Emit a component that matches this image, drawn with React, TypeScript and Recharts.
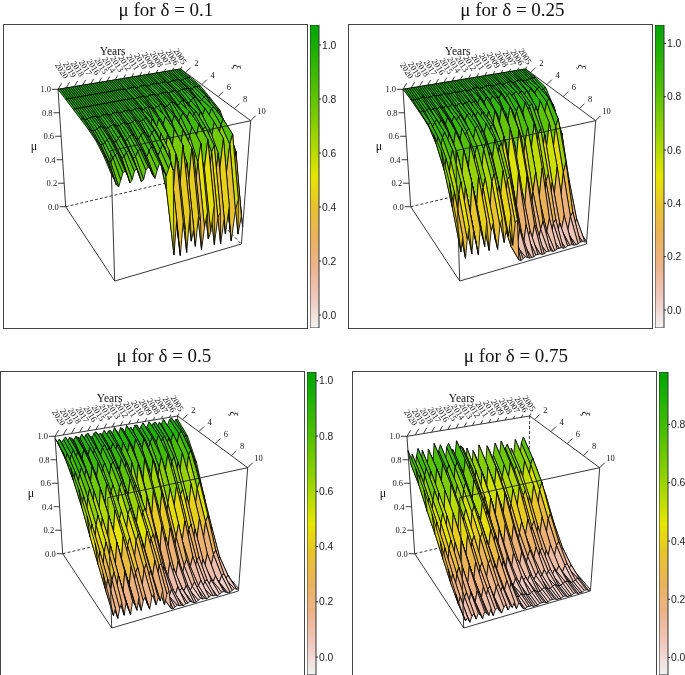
import { Bar, BarChart, Scatter, ScatterChart, XAxis, YAxis } from "recharts"

// mu in percent: rows run from the lowest xi to xi = 10, columns from 2020 back to 2005 (quarterly)
const mu01 = [
  [100,100,100,100,100,100,100,100,100,100,100,100,100,100,100,100,100,100,100,100,100,100,100,100,100,100,100,100,
   100,100,100,100,100,100,100,100,100,100,100,100,100,100,100,100,100,100,100,100,100,100,100,100,100,100,100,100,100,100,100,100,100],
  [99,99,99,99,99,99,99,99,99,99,99,99,99,99,99,99,99,99,99,99,99,99,99,99,99,99,99,99,
   99,98,99,99,99,99,98,98,99,99,99,98,98,99,99,99,99,98,99,99,99,98,98,99,99,99,99,98,98,99,99,99,99],
  [98,98,98,98,98,98,98,98,98,98,98,98,98,98,98,98,98,98,98,98,98,98,98,98,98,98,98,98,
   98,97,98,98,98,98,97,97,98,98,98,97,97,98,98,98,98,97,98,98,98,97,97,98,98,98,98,97,97,98,98,98,98],
  [97,97,96,96,97,97,97,97,96,96,97,97,97,96,96,97,97,97,96,96,97,97,97,96,96,97,97,97,
   96,95,96,97,96,95,94,95,96,97,96,94,94,96,97,96,95,93,95,97,96,94,93,95,97,97,95,93,94,96,97,95,94],
  [96,95,94,94,95,96,96,95,94,94,95,96,95,94,94,95,96,95,94,94,95,96,95,94,94,95,96,95,
   88,94,90,87,93,92,87,94,89,91,88,93,92,87,91,94,88,90,94,87,92,93,87,92,89,94,90,87,93,94,88,91,90],
  [94,92,90,90,91,93,94,92,90,90,92,94,92,89,90,92,93,92,89,88,91,93,92,89,88,91,93,91,
   74,89,80,72,87,84,73,90,77,83,75,88,85,72,82,89,76,79,90,73,85,87,72,84,77,89,78,72,86,90,75,83,75],
  [89,87,84,83,86,88,89,87,84,85,88,89,86,82,83,87,88,87,83,81,85,88,87,83,80,84,88,85,
   50,82,63,46,78,71,48,84,57,69,52,80,74,46,67,82,54,61,84,48,73,78,46,71,55,82,59,46,76,84,52,69,54],
  [82,78,73,71,76,81,82,78,72,74,80,82,77,71,72,79,81,79,74,71,77,82,80,74,71,76,81,74,
   7,34,19,5,31,25,6,38,14,23,9,33,28,5,22,34,12,17,38,6,27,31,5,25,12,34,15,5,29,38,9,23,14],
]

const mu025 = [
  [100,100,100,100,100,100,100,100,100,100,100,100,100,100,100,100,100,100,100,100,100,100,100,100,100,100,100,100,
   100,100,100,100,100,100,100,100,100,100,100,100,100,100,100,100,100,100,100,100,100,100,100,100,100,100,100,100,100,100,100,100,100],
  [99,98,98,98,98,99,99,98,98,98,98,99,98,98,98,98,99,98,98,98,98,99,98,98,98,98,99,98,
   98,98,99,99,99,98,98,98,99,99,99,98,98,99,99,99,98,98,99,99,99,98,98,99,99,99,98,98,98,99,99,99,99],
  [97,95,96,95,96,97,95,96,96,95,97,96,95,97,95,96,97,95,95,96,97,95,96,96,97,95,96,96,
   94,98,96,94,97,97,94,98,95,96,95,98,97,94,96,98,95,96,98,94,97,97,94,97,95,98,95,94,97,98,95,96,97],
  [95,92,94,90,93,95,91,94,92,90,95,93,91,95,91,94,95,92,90,94,95,91,94,92,95,90,94,93,
   82,94,87,81,93,90,82,95,85,89,83,94,91,81,89,94,84,87,95,82,91,93,81,90,85,94,86,81,92,95,83,89,84],
  [92,84,89,81,88,92,83,90,86,81,91,88,84,92,82,89,91,85,81,90,92,83,88,85,92,81,89,90,
   55,82,66,52,79,73,54,84,62,71,57,81,76,52,70,82,58,65,84,54,74,79,52,73,60,82,63,52,78,84,57,71,60],
  [86,70,79,64,77,85,66,82,73,64,83,76,68,86,65,78,84,71,64,80,85,67,77,72,86,64,79,82,
   18,52,32,14,48,40,16,54,26,38,20,50,44,14,36,52,22,30,54,16,42,48,14,40,24,52,28,14,46,54,20,38,20],
  [68,47,60,40,57,67,43,62,51,40,64,55,46,68,41,58,65,48,40,61,67,44,57,50,68,40,60,62,
   6,19,11,4,18,14,5,20,9,14,6,18,16,4,13,19,7,10,20,5,15,18,4,14,8,19,10,4,17,20,6,14,5],
  [40,22,33,16,30,39,18,35,26,16,36,29,21,40,17,32,38,23,16,34,39,20,30,24,40,16,33,35,
   3,2,3,4,3,2,2,2,3,3,3,2,2,3,3,3,2,2,3,3,3,2,2,3,3,3,2,2,2,3,3,3,2],
]

const mu05 = [
  [98,95,97,94,96,98,94,97,96,94,97,96,95,98,94,97,98,95,94,97,98,95,96,95,98,94,97,97,
   94,99,96,93,98,97,93,99,95,97,94,98,98,93,96,99,94,95,99,93,97,98,93,97,95,99,95,93,98,99,94,97,97],
  [94,88,92,86,91,94,87,92,89,86,93,90,88,94,86,91,93,88,86,92,94,87,91,89,94,86,92,91,
   85,93,88,84,92,90,85,94,87,90,85,93,91,84,89,93,86,88,94,85,91,92,84,90,87,93,88,84,92,94,85,90,89],
  [88,77,84,74,82,87,75,85,80,74,86,82,77,88,75,83,87,78,74,84,87,76,82,79,88,74,84,82,
   64,83,72,62,81,76,63,84,69,75,65,82,78,62,74,83,66,71,84,63,77,81,62,76,68,83,70,62,80,84,65,75,72],
  [78,63,72,58,70,77,60,74,66,58,75,69,62,78,59,71,76,64,58,73,77,61,70,65,78,58,72,71,
   39,63,49,36,60,54,37,64,44,53,40,61,57,36,51,63,42,47,64,37,56,60,36,54,43,63,46,36,58,64,40,53,46],
  [64,47,57,42,55,63,44,60,51,42,61,54,46,64,43,56,62,49,42,58,63,45,55,50,64,42,57,60,
   19,41,28,16,38,33,17,42,24,32,20,39,36,16,30,41,21,26,42,17,34,38,16,33,22,41,25,16,37,42,20,32,18],
  [50,33,43,28,41,49,30,46,37,28,47,40,32,50,29,42,48,35,28,44,49,31,41,36,50,28,43,46,
   7,19,12,6,18,15,7,20,10,14,8,19,16,6,14,19,9,12,20,7,16,18,6,15,9,19,11,6,17,20,8,14,7],
  [34,20,29,16,27,33,18,30,23,16,31,26,20,34,17,28,32,21,16,29,33,19,27,22,34,16,29,30,
   3,8,5,2,7,6,2,8,4,6,3,7,6,2,5,8,3,4,8,2,6,7,2,6,4,8,4,2,7,8,3,6,3],
  [18,9,14,6,13,17,7,16,11,6,16,13,8,18,7,14,17,10,6,15,17,8,13,10,18,6,14,16,
   2,1,2,3,2,2,1,2,2,3,2,1,1,2,3,2,2,1,2,3,2,2,1,2,3,3,2,1,1,2,3,2,2],
]

const mu075 = [
  [88,76,84,72,82,88,73,86,78,71,86,81,75,90,72,83,88,77,71,85,88,74,82,77,89,71,84,82,
   60,81,69,58,78,74,59,82,65,72,62,80,76,58,71,81,63,68,82,59,75,78,58,74,64,81,66,58,77,82,61,72,66],
  [80,66,75,62,73,79,64,76,69,62,77,72,66,80,63,74,78,67,62,75,79,65,73,68,80,62,75,73,
   48,69,57,46,66,62,47,70,53,60,50,68,64,46,59,69,51,56,70,47,63,66,46,62,52,69,54,46,65,70,50,60,55],
  [70,52,63,46,60,68,48,65,56,46,66,59,51,70,47,61,68,53,46,64,69,50,60,54,70,46,63,60,
   31,55,41,28,52,46,29,56,36,45,32,53,49,28,43,55,34,39,56,29,48,52,28,46,35,55,38,28,50,56,32,45,30],
  [58,41,51,36,49,57,38,54,45,36,55,48,40,58,37,50,56,43,36,52,57,39,49,44,58,36,51,48,
   16,35,24,14,33,28,15,36,21,27,17,34,30,14,26,35,18,23,36,15,29,33,14,28,20,35,22,14,32,36,17,27,12],
  [44,29,38,24,36,43,26,40,32,24,41,35,28,44,25,37,42,30,24,39,43,27,36,31,44,24,38,35,
   7,19,12,6,18,15,7,20,10,14,8,19,16,6,14,19,9,12,20,7,16,18,6,15,9,19,11,6,17,20,8,14,5],
  [30,18,25,14,24,29,16,27,20,14,28,23,17,30,15,24,28,19,14,26,29,17,24,20,30,14,25,22,
   4,9,6,3,8,7,3,9,5,7,4,8,7,3,6,9,4,5,9,3,7,8,3,7,5,9,5,3,8,9,4,7,3],
  [18,10,15,8,14,17,9,16,12,8,16,14,10,18,8,15,17,11,8,15,17,10,14,11,18,8,15,12,
   3,2,3,4,3,3,2,2,3,4,3,2,2,3,4,3,2,2,3,4,3,2,2,3,4,4,3,2,2,3,4,3,2],
  [9,5,7,3,7,9,4,8,6,3,8,6,4,9,3,7,8,5,3,7,9,4,7,5,9,3,7,6,
   2,1,2,2,2,1,1,1,2,2,2,1,1,2,2,2,1,1,1,2,2,1,1,1,2,2,1,1,1,2,2,1,1],
]

const yearLabels = ["2020","2019","2018","2017","2016","2015","2014","2013","2012","2011","2010","2009","2008","2007","2006","2005"]
const xiTicks = [2, 4, 6, 8, 10]
const muTicks = [0, 0.2, 0.4, 0.6, 0.8, 1]
const XI_MIN = 1.4
const SIZE = 303

// where the corners of the unit cube land in a panel: [year, xi, mu]
const corner = {
  "000": [61.7, 181.7], "001": [54, 64.3],
  "010": [110.7, 256], "011": [106.7, 125.7],
  "100": [175, 155], "101": [176.7, 44],
  "110": [237.4, 219], "111": [246.7, 95.7],
}

function project(t: number, u: number, m: number, dx = 0, dy = 0) {
  const mix = (a: number, b: number, f: number) => a + (b - a) * f
  const at = (i: number) => {
    const c = (k: string) => corner[k][i]
    const low = mix(mix(c("000"), c("100"), t), mix(c("010"), c("110"), t), u)
    const high = mix(mix(c("001"), c("101"), t), mix(c("011"), c("111"), t), u)
    return mix(low, high, m)
  }
  return { x: at(0) + dx, y: at(1) + dy }
}

// R's terrain.colors, reversed so that high values are green
function terrain(f: number) {
  const hsv = (h: number, s: number, v: number) => {
    const ch = (n: number) => {
      const k = (n + h * 6) % 6
      return Math.round(255 * (v - v * s * Math.max(0, Math.min(k, 4 - k, 1))))
    }
    return `rgb(${ch(5)},${ch(3)},${ch(1)})`
  }
  if (f < 0.5) return hsv(4 / 12 - (f / 0.5) * (2 / 12), 1, 0.65 + (f / 0.5) * 0.25)
  const g = (f - 0.5) / 0.5
  return hsv((2 / 12) * (1 - g), 1 - g, 0.9 + g * 0.05)
}

const stops = [0, 0.1, 0.2, 0.3, 0.4, 0.5, 0.6, 0.7, 0.8, 0.9, 1]

const segments = (pairs: number[][]) => pairs.map((p) => project(p[0], p[1], p[2]))

const backEdges = segments([[0,0,1],[0,0,0], [0,0,1],[1,0,1], [1,0,1],[1,1,1], [0,0,0],[0,1,0]])
const hiddenEdges = segments([[0,0,0],[1,0,0], [1,0,1],[1,0,0], [1,0,0],[1,1,0]])
const frontEdges = segments([[0,1,1],[1,1,1], [0,1,1],[0,1,0], [0,1,0],[1,1,0], [1,1,1],[1,1,0]])

const xiU = (xi: number) => (xi - XI_MIN) / (10 - XI_MIN)

const tickMarks = [
  ...muTicks.flatMap((m) => [project(0, 0, m), project(0, 0, m, -6, 0)]),
  ...yearLabels.flatMap((_, i) => {
    const t = i / 15
    return [project(t, 0, 1), project(t, 0, 1, 3.6 - 2.6 * t, -6 + 3.6 * t)]
  }),
  ...xiTicks.flatMap((xi) => [project(1, xiU(xi), 1), project(1, xiU(xi), 1, 5, -5)]),
]

const axisLabels = [
  ...muTicks.map((m) => ({ ...project(0, 0, m, -7, 3), label: m.toFixed(1), anchor: "end", size: 8.5, angle: 0 })),
  ...yearLabels.map((y, i) => {
    const t = i / 15
    return { ...project(t, 0, 1, 6 - 4.3 * t, -10 + 6 * t), label: y, anchor: "end", size: 8.5, angle: 57 }
  }),
  ...xiTicks.map((xi) => ({ ...project(1, xiU(xi), 1, 10.7, -7), label: String(xi), anchor: "middle", size: 8.5, angle: 0 })),
  { x: 108.7, y: 30, label: "Years", anchor: "middle", size: 11.5, angle: 0 },
  { x: 30, y: 125, label: "μ", anchor: "middle", size: 12, angle: 0 },
  { x: 229, y: 41.5, label: "ξ", anchor: "middle", size: 11.5, angle: 95 },
]

function buildFacets(rows: number[][], low: number, high: number) {
  const corners: { x: number; y: number }[] = []
  const fills: string[] = []
  const value = (i: number, k: number) => (rows[i][k] ?? rows[i][rows[i].length - 1]) / 100
  for (let i = 0; i < rows.length - 1; i++) {
    for (let k = 59; k >= 0; k--) {
      const quad = [[k, i], [k + 1, i], [k + 1, i + 1], [k, i + 1]]
      quad.forEach(([c, r]) => corners.push(project(c / 60, r / (rows.length - 1), value(r, c))))
      const mean = quad.reduce((s, [c, r]) => s + value(r, c), 0) / 4
      fills.push(terrain((high - mean) / (high - low)))
    }
  }
  return { corners, fills }
}

const noDot = () => null

const drawSegments = (dash?: string) => (props: any) => {
  const pts = props.points
  const out = []
  for (let i = 0; i + 1 < pts.length; i += 2) {
    out.push(
      <line key={i} x1={pts[i].x} y1={pts[i].y} x2={pts[i + 1].x} y2={pts[i + 1].y}
        stroke="#222" strokeWidth={0.9} strokeDasharray={dash} />
    )
  }
  return <g>{out}</g>
}

const drawFacets = (fills: string[]) => (props: any) => {
  const pts = props.points
  return (
    <g>
      {fills.map((fill, i) => (
        <polygon
          key={i}
          points={[0, 1, 2, 3].map((j) => `${pts[i * 4 + j].x},${pts[i * 4 + j].y}`).join(" ")}
          fill={fill}
          stroke="#050505"
          strokeWidth={0.85}
          strokeLinejoin="round"
        />
      ))}
    </g>
  )
}

const AxisLabel = (p: any) => {
  const d = p.payload
  return (
    <text x={p.cx} y={p.cy} textAnchor={d.anchor} fontSize={d.size} fontFamily="Liberation Serif" fill="#111"
      transform={d.angle ? `rotate(${d.angle} ${p.cx} ${p.cy})` : undefined}>
      {d.label}
    </text>
  )
}

function Surface({ rows, low, high }: { rows: number[][]; low: number; high: number }) {
  const { corners, fills } = buildFacets(rows, low, high)
  return (
    <ScatterChart width={SIZE} height={SIZE} margin={{ top: 0, right: 0, bottom: 0, left: 0 }}>
      <XAxis type="number" dataKey="x" domain={[0, SIZE]} hide />
      <YAxis type="number" dataKey="y" domain={[0, SIZE]} reversed hide />
      <Scatter data={hiddenEdges} line={drawSegments("3 2")} shape={noDot} isAnimationActive={false} />
      <Scatter data={backEdges} line={drawSegments()} shape={noDot} isAnimationActive={false} />
      <Scatter data={tickMarks} line={drawSegments()} shape={noDot} isAnimationActive={false} />
      <Scatter data={corners} line={drawFacets(fills)} shape={noDot} isAnimationActive={false} />
      <Scatter data={frontEdges} line={drawSegments()} shape={noDot} isAnimationActive={false} />
      <Scatter data={axisLabels} shape={AxisLabel} isAnimationActive={false} />
    </ScatterChart>
  )
}

function ColorBar({ id, low, high, ticks }: { id: string; low: number; high: number; ticks: number[] }) {
  return (
    <BarChart width={40} height={SIZE} data={[{ name: "mu", span: [low, high] }]}
      margin={{ top: 0, right: 0, bottom: 0, left: 0 }} barCategoryGap={0}>
      <defs>
        <linearGradient id={id} x1="0" y1="0" x2="0" y2="1">
          {stops.map((s) => <stop key={s} offset={s} stopColor={terrain(s)} />)}
        </linearGradient>
      </defs>
      <XAxis dataKey="name" hide />
      <YAxis type="number" orientation="right" width={31} domain={[low, high]} ticks={ticks} allowDataOverflow
        axisLine={false} tickSize={2} tickMargin={1} tickFormatter={(v: number) => v.toFixed(1)}
        tick={{ fontSize: 10.3, fontFamily: "Liberation Sans", fill: "#222" }} tickLine={{ stroke: "#222" }} />
      <Bar dataKey="span" fill={`url(#${id})`} stroke="#333" strokeWidth={1} isAnimationActive={false} />
    </BarChart>
  )
}

function Panel({ title, rows, left, top, titleX, titleY, low, high, ticks, id }: any) {
  return (
    <>
      <div style={{ position: "absolute", left: titleX - 100, top: titleY - 13, width: 200, textAlign: "center",
        fontFamily: "Liberation Serif", fontSize: 19, lineHeight: "26px", color: "#111" }}>
        {title}
      </div>
      <div style={{ position: "absolute", left, top, width: SIZE, height: SIZE, outline: "1px solid #444" }}>
        <Surface rows={rows} low={low} high={high} />
      </div>
      <div style={{ position: "absolute", left: left + SIZE + 3, top, width: 40, height: SIZE }}>
        <ColorBar id={id} low={low} high={high} ticks={ticks} />
      </div>
    </>
  )
}

export default function App() {
  return (
    <div style={{ position: "fixed", left: 0, top: 0, width: 685, height: 675, overflow: "hidden", opacity: 0.999 }}>
      <Panel id="g1" title="μ for δ = 0.1" rows={mu01} left={3.5} top={25} titleX={166} titleY={10} low={-0.048} high={1.074} ticks={muTicks} />
      <Panel id="g2" title="μ for δ = 0.25" rows={mu025} left={349} top={25} titleX={512.5} titleY={10} low={-0.0675} high={1.069} ticks={muTicks} />
      <Panel id="g3" title="μ for δ = 0.5" rows={mu05} left={0.5} top={371.5} titleX={164} titleY={356} low={-0.065} high={1.032} ticks={muTicks} />
      <Panel id="g4" title="μ for δ = 0.75" rows={mu075} left={352.5} top={371.5} titleX={516} titleY={356} low={-0.06} high={0.98} ticks={[0, 0.2, 0.4, 0.6, 0.8]} />
    </div>
  )
}
